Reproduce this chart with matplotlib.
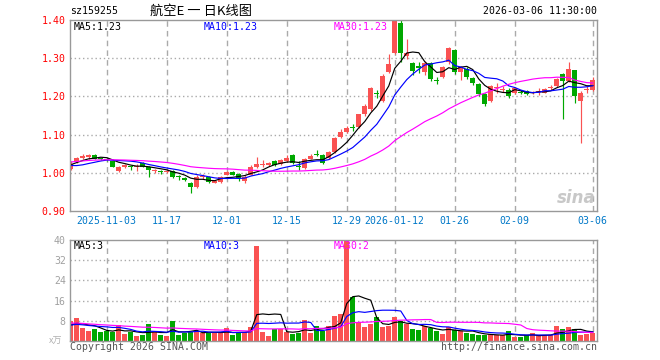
import numpy as np
import matplotlib
matplotlib.use('Agg')
import matplotlib.pyplot as plt

# daily candles, 2025-10-24 .. 2026-03-06 (88 trading days)
opens = [1.011, 1.029, 1.039, 1.042, 1.047, 1.038, 1.035, 1.032, 1.005, 1.016,
         1.017, 1.014, 1.026, 1.016, 1.004, 1.004, 1.002, 1.005, 0.991, 0.987,
         0.974, 0.963, 0.989, 0.989, 0.974, 0.976, 0.995, 1.003, 0.997, 0.979,
         0.995, 1.015, 1.020, 1.020, 1.030, 1.024, 1.031, 1.047, 1.017, 1.013,
         1.037, 1.048, 1.047, 1.039, 1.055, 1.095, 1.108, 1.119, 1.121, 1.153,
         1.166, 1.210, 1.187, 1.263, 1.313, 1.392, 1.305, 1.287, 1.280, 1.263,
         1.287, 1.242, 1.250, 1.290, 1.321, 1.263, 1.273, 1.247, 1.232, 1.205,
         1.189, 1.223, 1.217, 1.218, 1.208, 1.212, 1.213, 1.208, 1.212, 1.210,
         1.223, 1.226, 1.258, 1.240, 1.268, 1.187, 1.217, 1.216]
closes = [1.024, 1.039, 1.045, 1.047, 1.037, 1.036, 1.033, 1.016, 1.016, 1.020,
          1.016, 1.019, 1.016, 1.008, 1.007, 1.003, 1.005, 0.990, 0.990, 0.982,
          0.963, 0.990, 0.990, 0.976, 0.978, 0.989, 1.003, 0.995, 0.987, 0.990,
          1.016, 1.024, 1.021, 1.026, 1.020, 1.034, 1.039, 1.026, 1.016, 1.037,
          1.045, 1.047, 1.026, 1.055, 1.092, 1.108, 1.118, 1.118, 1.153, 1.174,
          1.221, 1.205, 1.253, 1.284, 1.405, 1.313, 1.313, 1.266, 1.275, 1.287,
          1.245, 1.240, 1.276, 1.328, 1.263, 1.276, 1.250, 1.234, 1.205, 1.179,
          1.226, 1.224, 1.218, 1.200, 1.221, 1.210, 1.205, 1.211, 1.213, 1.220,
          1.224, 1.245, 1.240, 1.271, 1.200, 1.210, 1.218, 1.242]
highs = [1.030, 1.042, 1.050, 1.050, 1.049, 1.040, 1.038, 1.034, 1.018, 1.024,
         1.019, 1.024, 1.028, 1.018, 1.010, 1.008, 1.008, 1.007, 0.994, 0.990,
         0.977, 0.995, 0.998, 0.992, 0.980, 0.992, 1.006, 1.005, 0.999, 0.993,
         1.020, 1.042, 1.034, 1.028, 1.034, 1.036, 1.047, 1.050, 1.030, 1.040,
         1.050, 1.060, 1.050, 1.058, 1.095, 1.115, 1.122, 1.127, 1.155, 1.180,
         1.224, 1.216, 1.258, 1.310, 1.430, 1.400, 1.350, 1.290, 1.290, 1.292,
         1.290, 1.252, 1.280, 1.330, 1.325, 1.280, 1.276, 1.250, 1.235, 1.208,
         1.230, 1.235, 1.228, 1.222, 1.224, 1.218, 1.216, 1.214, 1.222, 1.223,
         1.230, 1.248, 1.262, 1.289, 1.270, 1.214, 1.228, 1.250]
lows = [1.008, 1.026, 1.036, 1.036, 1.035, 1.033, 1.030, 1.014, 1.003, 1.013,
        1.008, 1.006, 1.014, 0.990, 1.000, 0.996, 0.999, 0.986, 0.980, 0.979,
        0.947, 0.961, 0.985, 0.974, 0.972, 0.974, 0.993, 0.993, 0.979, 0.972,
        0.993, 1.012, 1.015, 1.017, 1.018, 1.021, 1.029, 1.024, 1.008, 1.011,
        1.035, 1.045, 1.024, 1.036, 1.052, 1.092, 1.105, 1.110, 1.118, 1.150,
        1.163, 1.197, 1.185, 1.260, 1.310, 1.290, 1.298, 1.255, 1.260, 1.255,
        1.240, 1.232, 1.248, 1.285, 1.258, 1.242, 1.245, 1.230, 1.200, 1.175,
        1.186, 1.210, 1.212, 1.196, 1.206, 1.206, 1.203, 1.205, 1.204, 1.208,
        1.218, 1.224, 1.142, 1.238, 1.184, 1.079, 1.210, 1.214]
volumes = [7.8, 9.0, 5.0, 3.8, 4.6, 3.5, 4.1, 3.6, 6.2, 2.6,
           3.6, 2.0, 2.2, 6.6, 3.6, 2.4, 2.0, 7.8, 2.4, 3.3,
           3.6, 4.1, 3.0, 3.2, 3.3, 3.2, 5.0, 2.2, 3.2, 3.6,
           5.4, 37.8, 3.6, 2.0, 4.6, 4.6, 3.6, 2.6, 3.2, 8.2,
           3.2, 5.8, 3.8, 6.0, 9.9, 10.5, 44.0, 17.4, 7.4, 5.4,
           6.6, 9.4, 5.4, 6.0, 9.4, 7.8, 6.6, 4.6, 4.2, 6.0,
           5.2, 3.8, 2.6, 5.5, 4.5, 3.8, 3.2, 2.8, 2.2, 2.2,
           2.6, 2.4, 2.2, 3.8, 1.6, 1.6, 2.2, 3.0, 2.2, 2.2,
           2.2, 6.0, 4.6, 5.4, 4.6, 2.4, 2.6, 3.3]

# days before the window are not shown; guessed so the MA lines start where they do
pre_closes = [1.000, 1.005, 1.010, 1.012, 1.015, 1.020, 1.025, 1.022, 1.030, 1.035,
              1.032, 1.038, 1.040, 1.036, 1.042, 1.045, 1.055, 1.068, 1.070, 1.063,
              1.040, 1.025, 1.012, 1.005, 1.003, 1.010, 1.018, 1.025, 1.028]
pre_volumes = [8, 9, 10, 8.5, 9, 7.5, 8, 9.5, 8, 7,
               6.5, 7, 7.5, 6, 6.5, 6, 5.5, 7, 6, 6.5,
               6, 7, 6.5, 6.5, 5.5, 5.5, 6, 6, 6.2]

tick_pos = [6, 16, 26, 36, 46, 54, 64, 74, 87]
tick_labels = ['2025-11-03', '11-17', '12-01', '12-15', '12-29',
               '2026-01-12', '01-26', '02-09', '03-06']
price_ticks = [0.90, 1.00, 1.10, 1.20, 1.30, 1.40]
vol_ticks = [8, 16, 24, 32, 40]

RED = '#fa5252'
GREEN = '#00a800'
GREY = '#999999'
MONO = 'DejaVu Sans Mono'
FS = 7.1
LW = 0.85


def ma(data, pre, n):
    full = np.array(pre + data, dtype=float)
    return np.convolve(full, np.ones(n) / n, mode='valid')[-len(data):]


fig = plt.figure(figsize=(6.6, 3.6), dpi=100)
W, H = 660.0, 360.0


def box(l, t, r, b):
    return [l / W, 1 - b / H, (r - l) / W, (b - t) / H]


ax = fig.add_axes(box(70, 20, 597, 211))
axv = fig.add_axes(box(70, 240, 597, 341))

x = np.arange(len(closes))
o = np.array(opens)
c = np.array(closes)
col = np.where(c >= o, RED, GREEN)

# candles
ax.vlines(x, lows, highs, colors=col, lw=LW)
body = np.maximum(np.abs(c - o), 0.002)
ax.bar(x, body, bottom=np.minimum(o, c), width=0.82, color=col, lw=0)
ax.plot(x, ma(closes, pre_closes, 5), color='black', lw=LW)
ax.plot(x, ma(closes, pre_closes, 10), color='#0000ff', lw=LW)
ax.plot(x, ma(closes, pre_closes, 30), color='#ff00ff', lw=LW)

# volume
axv.bar(x, volumes, width=0.82, color=col, lw=0)
axv.plot(x, ma(volumes, pre_volumes, 5), color='black', lw=LW)
axv.plot(x, ma(volumes, pre_volumes, 10), color='#0000ff', lw=LW)
axv.plot(x, ma(volumes, pre_volumes, 30), color='#ff00ff', lw=LW)

for a in (ax, axv):
    a.set_xlim(-0.12, 87.7)
    for s in a.spines.values():
        s.set_color(GREY)
        s.set_linewidth(1)
    for p in tick_pos:
        a.axvline(p, color='#aaaaaa', lw=1, ls=(0, (4, 3)), zorder=0)
    a.tick_params(length=0)

ax.set_ylim(0.90, 1.40)
for v in price_ticks[1:-1]:
    ax.axhline(v, color='#aaaaaa', lw=1, ls=(0, (1, 2)), zorder=0)
ax.set_yticks(price_ticks)
ax.set_yticklabels(['%.2f' % v for v in price_ticks], color='red',
                   fontsize=FS, family=MONO)
ax.set_xticks(tick_pos)
ax.set_xticklabels(tick_labels, color='#0078c8', fontsize=FS, family=MONO)
ax.tick_params(axis='x', pad=3.5)
ax.tick_params(axis='y', pad=3)

axv.set_ylim(0, 40)
for v in vol_ticks[:-1]:
    axv.axhline(v, color='#aaaaaa', lw=1, ls=(0, (1, 2)), zorder=0)
axv.set_yticks(vol_ticks)
axv.set_yticklabels([str(v) for v in vol_ticks], color='#a0a0a0',
                    fontsize=FS, family=MONO)
axv.tick_params(axis='y', pad=3)
axv.set_xticks([])

# texts
def ftxt(px, py, s, **kw):
    kw.setdefault('fontsize', FS)
    kw.setdefault('family', MONO)
    fig.text(px / W, 1 - py / H, s, va='center', **kw)

ftxt(70, 11, 'sz159255', color='black')
ftxt(150, 11, '航空E 一 日K线图', color='black', fontsize=9.5,
     family=['Noto Sans CJK SC', 'DejaVu Sans'])
ftxt(597, 11, '2026-03-06 11:30:00', color='black', ha='right')

ftxt(74, 27, 'MA5:1.23', color='black')
ftxt(204, 27, 'MA10:1.23', color='#0000ff')
ftxt(334, 27, 'MA30:1.23', color='#ff00ff')
ftxt(74, 246, 'MA5:3', color='black')
ftxt(204, 246, 'MA10:3', color='#0000ff')
ftxt(334, 246, 'MA30:2', color='#ff00ff')

ftxt(49, 341, 'x万', color='#b0b0b0', fontsize=6.5,
     family=['Noto Sans CJK SC', 'DejaVu Sans'])
ftxt(70, 347, 'Copyright 2026 SINA.COM', color='#555555')
ftxt(597, 347, 'http://finance.sina.com.cn', color='#555555', ha='right')

ax.text(0.998, 0.07, 'sina', transform=ax.transAxes, ha='right', va='center',
        color='#c8c8c8', fontsize=12, fontstyle='italic', fontweight='bold',
        zorder=0)

fig.savefig('out.png', dpi=100)
